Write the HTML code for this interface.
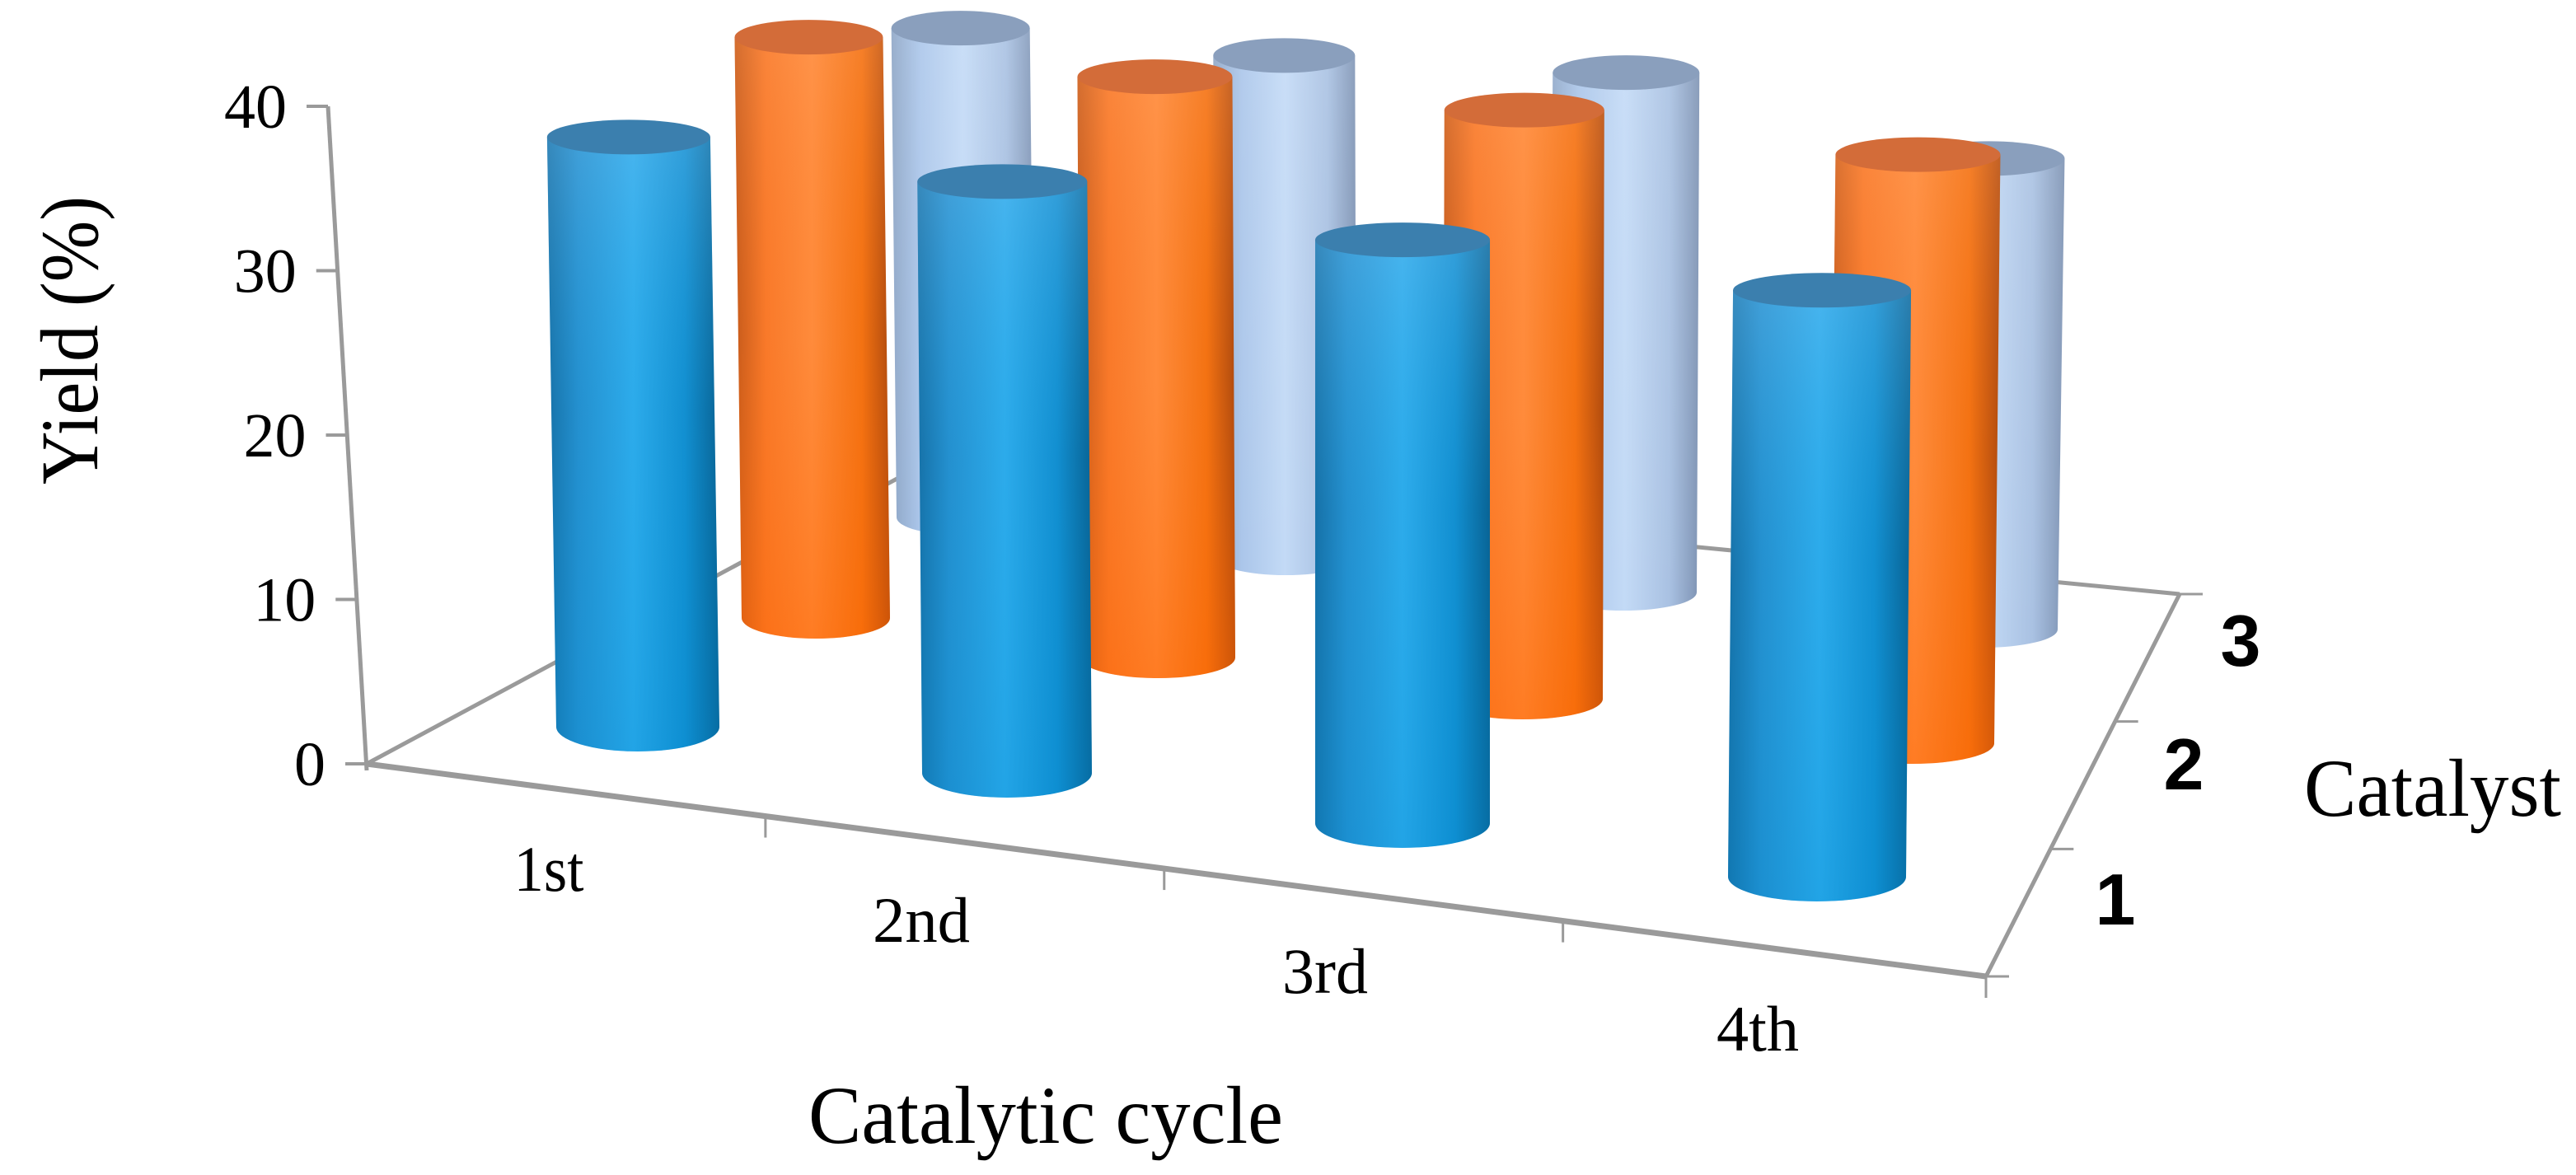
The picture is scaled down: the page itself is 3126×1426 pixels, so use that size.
<!DOCTYPE html>
<html><head><meta charset="utf-8"><style>
html,body{margin:0;padding:0;background:#fff}
svg{display:block}
text{font-family:"Liberation Serif",serif;fill:#000}
</style></head><body>
<svg id="chart" width="3126" height="1426" viewBox="0 0 3126 1426" xmlns="http://www.w3.org/2000/svg">
<defs>
<linearGradient id="gBlue" x1="0" x2="1" y1="0" y2="0">
<stop offset="0" stop-color="#1a689c"/><stop offset="0.18" stop-color="#2a8cca"/><stop offset="0.5" stop-color="#34aceb"/><stop offset="0.8" stop-color="#158bcc"/><stop offset="1" stop-color="#0a5886"/></linearGradient>
<linearGradient id="gOrange" x1="0" x2="1" y1="0" y2="0">
<stop offset="0" stop-color="#c0581c"/><stop offset="0.2" stop-color="#f87a2c"/><stop offset="0.5" stop-color="#ff8e40"/><stop offset="0.82" stop-color="#f27212"/><stop offset="1" stop-color="#a8470e"/></linearGradient>
<linearGradient id="gLight" x1="0" x2="1" y1="0" y2="0">
<stop offset="0" stop-color="#8ea6c6"/><stop offset="0.2" stop-color="#abc6ea"/><stop offset="0.5" stop-color="#c3daf6"/><stop offset="0.8" stop-color="#a9c1e2"/><stop offset="1" stop-color="#7e93b3"/></linearGradient>
<linearGradient id="vBlue" x1="0" x2="0" y1="0" y2="1">
<stop offset="0" stop-color="#6cc4f4" stop-opacity="0.35"/><stop offset="0.45" stop-color="#00a6ea" stop-opacity="0.15"/><stop offset="1" stop-color="#0095dc" stop-opacity="0.35"/></linearGradient>
<linearGradient id="vOrange" x1="0" x2="0" y1="0" y2="1">
<stop offset="0" stop-color="#ffa060" stop-opacity="0.3"/><stop offset="0.5" stop-color="#ff7010" stop-opacity="0.1"/><stop offset="1" stop-color="#ff6600" stop-opacity="0.45"/></linearGradient>
<linearGradient id="vLight" x1="0" x2="0" y1="0" y2="1">
<stop offset="0" stop-color="#fff" stop-opacity="0.1"/><stop offset="1" stop-color="#fff" stop-opacity="0"/></linearGradient>
</defs>
<g id="floor"></g>
<g id="bars"></g>
<g id="axes"></g>
<text transform="translate(118,413) rotate(-90)" text-anchor="middle" font-size="100" textLength="350" lengthAdjust="spacingAndGlyphs">Yield (%)</text>
<text x="1269" y="1387" text-anchor="middle" font-size="100" textLength="576" lengthAdjust="spacingAndGlyphs">Catalytic cycle</text>
<text x="2796" y="990" font-size="100" textLength="312" lengthAdjust="spacingAndGlyphs">Catalyst</text>
</svg>
<script>
// ---- data ----
const cycles = ["1st","2nd","3rd","4th"];
const catalysts = ["1","2","3"];
const yieldCat1 = [36.7, 36.8, 36.3, 36.5];
const yieldCat2 = [37.1, 37.1, 37.6, 37.6];
const yieldCat3 = [32.1, 32.9, 34.1, 30.9];
const yTicks = [0, 10, 20, 30, 40];

// ---- layout (projection of 3D floor) ----
const NS = "http://www.w3.org/2000/svg";
const origin = [445, 927], frontRight = [2410, 1185], backRight = [2645, 721], backLeft = [1107, 571];
const rowBaseX = [[774,1222,1702,2205],[990,1405,1848,2320],[1172,1560,1970,2405]];
const rowBaseY = [[882,938,999,1064],[750,798,848,902],[628,676,719,764]];
const rowR = [[99,103,106,108],[90,94,97,100],[84,86,89,92]];
const rowPxPerUnit = [19.5, 19.0, 18.5];
const rowRyBottom = [30, 25, 22];
const ryTop = 21;
const fills = ["url(#gBlue)","url(#gOrange)","url(#gLight)"];
const overlays = ["url(#vBlue)","url(#vOrange)","url(#vLight)"];
const topFills = ["#3b7fae","#d36c39","#8a9fbd"];
const names = ["catalyst-1","catalyst-2","catalyst-3"];
const series = [yieldCat1, yieldCat2, yieldCat3];

function yAxisPt(v){ return [445 - v*1.175, 927 - v*19.95]; }
function frontPt(t){ return [origin[0]+(frontRight[0]-origin[0])*t, origin[1]+(frontRight[1]-origin[1])*t]; }
function sidePt(t){ return [frontRight[0]+(backRight[0]-frontRight[0])*t, frontRight[1]+(backRight[1]-frontRight[1])*t]; }
function barTopX(bx){ return bx + (bx-1700)*0.012; }

function el(tag, attrs, parent){ const e=document.createElementNS(NS,tag); for(const k in attrs) e.setAttribute(k,attrs[k]); parent.appendChild(e); return e; }

const floor=document.getElementById('floor');
const axes=document.getElementById('axes');
const bars=document.getElementById('bars');
const gray="#9a9a9a";

let l1=el('line',{x1:origin[0],y1:origin[1],x2:backLeft[0],y2:backLeft[1],stroke:gray,'stroke-width':5},floor);


let l2=el('line',{x1:backLeft[0],y1:backLeft[1],x2:backRight[0],y2:backRight[1],stroke:gray,'stroke-width':5},floor);



for(let r=2;r>=0;r--){
  for(let c=0;c<cycles.length;c++){
    const v=series[r][c];
    const bx=rowBaseX[r][c], by=rowBaseY[r][c], rad=rowR[r][c];
    const h=v*rowPxPerUnit[r];
    const tx=barTopX(bx), ty=by-h;
    const ryB=rowRyBottom[r];
    const g=el('g',{},bars);
    
    
    const d=`M${tx-rad},${ty} L${bx-rad},${by} A${rad},${ryB} 0 0 0 ${bx+rad},${by} L${tx+rad},${ty} Z`;
    el('path',{d:d,fill:fills[r]},g);
    el('path',{d:d,fill:overlays[r]},g);
    el('ellipse',{cx:tx,cy:ty,rx:rad,ry:ryTop,fill:topFills[r]},g);
  }
}

let ya=el('line',{x1:yAxisPt(40)[0],y1:yAxisPt(40)[1],x2:origin[0],y2:origin[1]+8,stroke:gray,'stroke-width':5},axes);


yTicks.forEach(v=>{
  const p=yAxisPt(v);
  const t=el('line',{x1:p[0]-26,y1:p[1],x2:p[0],y2:p[1],stroke:gray,'stroke-width':4},axes);
  
  
  const tx=el('text',{x:p[0]-50,y:p[1]+26,'text-anchor':'end','font-size':76},axes);
  
  
  tx.textContent=v;
});

let fa=el('line',{x1:origin[0],y1:origin[1],x2:frontRight[0],y2:frontRight[1],stroke:gray,'stroke-width':7},axes);


for(let i=1;i<=cycles.length;i++){
  const p=frontPt(i/cycles.length*0.985+0.015*(i===cycles.length?1:0));
  const t=el('line',{x1:p[0],y1:p[1],x2:p[0],y2:p[1]+26,stroke:gray,'stroke-width':3},axes);
  
  
}
const xLabelPos=[[666,1081],[1118,1143],[1608,1205],[2133,1275]];
cycles.forEach((c,i)=>{
  const t=el('text',{x:xLabelPos[i][0],y:xLabelPos[i][1],'text-anchor':'middle','font-size':78,textLength:[85,118,104,100][i],lengthAdjust:'spacingAndGlyphs'},axes);
  
  
  t.textContent=c;
});

let sa=el('line',{x1:frontRight[0],y1:frontRight[1],x2:backRight[0],y2:backRight[1],stroke:gray,'stroke-width':5},axes);


for(let i=0;i<=catalysts.length;i++){
  const p=sidePt(i/catalysts.length);
  const t=el('line',{x1:p[0],y1:p[1],x2:p[0]+28,y2:p[1],stroke:gray,'stroke-width':3},axes);
  
  
}
const dLabelPos=[[2567,1122],[2650,958],[2719,808]];
catalysts.forEach((c,i)=>{
  const t=el('text',{x:dLabelPos[i][0],y:dLabelPos[i][1],'text-anchor':'middle','font-size':88,'font-weight':'bold',style:'font-family:"Liberation Sans",sans-serif'},axes);
  
  
  t.textContent=c;
});
</script>
</body></html>
